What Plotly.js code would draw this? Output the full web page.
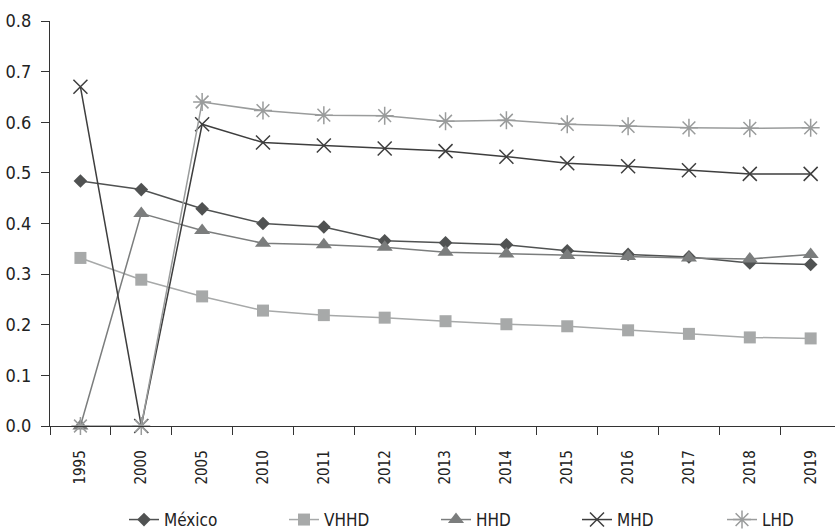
<!DOCTYPE html>
<html>
<head>
<meta charset="utf-8">
<script src="https://cdn.plot.ly/plotly-3.0.1.min.js"></script>
<style>html,body{margin:0;padding:0;background:#fff;}#chart{width:835px;height:531px;}
#chart text{font-stretch:condensed !important;}</style>
</head>
<body>
<div id="chart"></div>
<script>
const years = ['1995','2000','2005','2010','2011','2012','2013','2014','2015','2016','2017','2018','2019'];
const mexico = [0.484, 0.467, 0.429, 0.400, 0.393, 0.366, 0.362, 0.358, 0.346, 0.339, 0.334, 0.322, 0.319];
const vhhd   = [0.332, 0.289, 0.256, 0.228, 0.219, 0.214, 0.207, 0.201, 0.197, 0.189, 0.182, 0.175, 0.173];
const hhd    = [0.000, 0.420, 0.386, 0.361, 0.358, 0.353, 0.343, 0.340, 0.337, 0.335, 0.332, 0.330, 0.339];
const mhd    = [0.670, 0.000, 0.596, 0.560, 0.554, 0.548, 0.543, 0.532, 0.519, 0.513, 0.505, 0.498, 0.498];
const lhd    = [0.000, 0.000, 0.640, 0.623, 0.614, 0.613, 0.602, 0.604, 0.596, 0.592, 0.589, 0.588, 0.589];

const FONT = 'DejaVu Sans';

function tr(name, y, color, symbol, msize, mline, leg) {
  return {
    type: 'scatter', mode: 'lines+markers', name: name, x: years, y: y,
    line: {color: color, width: 1.5},
    marker: {symbol: symbol, size: msize, color: color, line: {color: color, width: mline}},
    cliponaxis: false, legend: leg
  };
}

const data = [
  tr('México', mexico, '#505252', 'diamond', 10.5, 0, 'legend'),
  tr('VHHD', vhhd, '#a7a9a9', 'square', 12, 0, 'legend2'),
  tr('HHD', hhd, '#7b7d7d', 'triangle-up', 14, 0, 'legend3'),
  tr('MHD', mhd, '#3e3e3e', 'x-thin-open', 14, 1.5, 'legend4'),
  tr('LHD', lhd, '#9a9c9c', 'asterisk-open', 15, 1.5, 'legend5')
];

function leg(px) {
  return {
    orientation: 'h', xref: 'container', yref: 'container',
    x: px / 835, xanchor: 'left', y: (531 - 520) / 531, yanchor: 'middle',
    font: {family: FONT, size: 17, color: '#222'},
    bgcolor: 'rgba(0,0,0,0)', borderwidth: 0
  };
}

const layout = {
  width: 835, height: 531,
  margin: {l: 50, r: 0, t: 21, b: 105},
  paper_bgcolor: '#ffffff', plot_bgcolor: '#ffffff',
  font: {family: FONT, size: 16, color: '#222'},
  showlegend: true,
  legend: leg(124), legend2: leg(284), legend3: leg(436), legend4: leg(577), legend5: leg(722),
  xaxis: {
    type: 'category', range: [-0.5, 12.4], automargin: false,
    showline: true, linecolor: '#333', linewidth: 1.2,
    ticks: 'outside', ticklen: 8, tickcolor: '#333', tickson: 'boundaries',
    tickangle: -90, showgrid: false, zeroline: false, ticklabelstandoff: 17,
    tickfont: {family: FONT, size: 15, color: '#222'}
  },
  yaxis: {
    range: [0, 0.8], dtick: 0.1, tickformat: '.1f', automargin: false,
    showline: true, linecolor: '#333', linewidth: 1.2,
    ticks: 'outside', ticklen: 8, tickcolor: '#333', ticklabelstandoff: 6,
    showgrid: false, zeroline: false,
    tickfont: {family: FONT, size: 18, color: '#222'}
  }
};

Plotly.newPlot('chart', data, layout, {displayModeBar: false, staticPlot: true});
</script>
</body>
</html>
